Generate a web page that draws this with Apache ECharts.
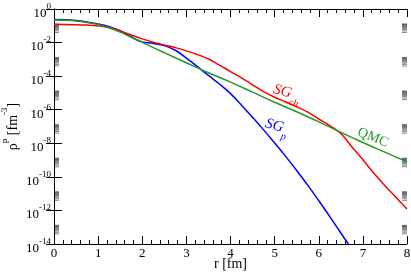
<!DOCTYPE html>
<html><head><meta charset="utf-8">
<script src="https://cdn.jsdelivr.net/npm/echarts@6/dist/echarts.min.js"></script>
<style>html,body{margin:0;padding:0;background:#fff}#c{width:411px;height:275px}</style>
</head><body><div id="c"></div>
<script>
// ---- data (r in fm, density in fm^-3) ----
const rRed   = [0,0.25,0.5,0.75,1.0,1.25,1.5,1.75,2.0,2.25,2.5,2.75,3.0,3.25,3.5,3.75,4.0,4.25,4.5,4.75,5.0,5.25,5.5,5.75,6.0,6.25,6.5,6.75,7.0,7.25,7.5,7.75,8.0];
const sgCh   = [1.20e-1,1.20e-1,1.17e-1,1.10e-1,9.8e-2,7.8e-2,5.0e-2,2.8e-2,1.66e-2,1.05e-2,7.2e-3,5.0e-3,3.2e-3,1.95e-3,1.05e-3,4.5e-4,1.86e-4,7.9e-5,3.0e-5,1.20e-5,5.5e-6,2.9e-6,1.51e-6,7.2e-7,2.8e-7,1.12e-7,3.8e-8,6.3e-9,1.05e-9,1.66e-10,3.0e-11,6.0e-12,1.2e-12];
const rBlue  = [0,0.25,0.5,0.75,1.0,1.25,1.5,1.75,1.9,2.0,2.25,2.5,2.75,3.0,3.25,3.5,3.75,4.0,4.25,4.5,4.75,5.0,5.25,5.5,5.75,6.0,6.25,6.5,6.75];
const sgP    = [2.34e-1,2.29e-1,2.04e-1,1.66e-1,1.29e-1,8.9e-2,5.1e-2,2.24e-2,1.32e-2,1.10e-2,8.9e-3,6.6e-3,3.5e-3,1.17e-3,3.7e-4,1.10e-4,3.4e-5,9.1e-6,1.86e-6,3.5e-7,6.3e-8,1.05e-8,1.66e-9,2.4e-10,3.2e-11,3.8e-12,4.3e-13,4.5e-14,5.0e-15];
const rGreen = [0,0.25,0.5,0.75,1.0,1.25,1.5,1.75,2.0,2.25,2.5,3.0,3.5,4.0,4.5,5.0,5.5,6.0,6.5,7.0,7.5,8.0];
const qmc    = [2.19e-1,2.14e-1,1.95e-1,1.58e-1,1.20e-1,7.4e-2,4.2e-2,2.09e-2,1.05e-2,5.0e-3,2.5e-3,6.3e-4,1.58e-4,4.4e-5,1.12e-5,2.8e-6,7.6e-7,1.9e-7,4.5e-8,1.12e-8,2.95e-9,7.9e-10];
// axis ticks
const xMin = 0, xMax = 8, xStep = 1;
const yMin = 1e-14, yMax = 1, yStepDecades = 2;
const minorDecades = [-14,-12,-10,-8,-6,-4,-2];
const minorMultipliers = [4,5,6,7,8,9,10,11,12,13];
// curve labels
const labels = [
  {text:'{m|SG}{sub|ch}', color:'#ff0000', r:5.26, v:7e-6, angle:-15},
  {text:'{m|SG}{sub|p}',  color:'#0000ff', r:5.03, v:7e-8, angle:-15},
  {text:'{u|QMC}',        color:'#229922', r:7.23, v:2.2e-8, angle:-22}
];

const RED='#ff0000', BLUE='#0000ff', GREEN='#229922';
const FONT='Liberation Serif';
const zip = (xs, ys) => xs.map((x,i)=>[x, ys[i]]);
const minorTickValues = [];
minorDecades.forEach(d => minorMultipliers.forEach(k => minorTickValues.push(k*Math.pow(10,d))));

const chart = echarts.init(document.getElementById('c'));
const axisLineStyle = {show:true, lineStyle:{color:'#000', width:1}};
const xBase = {type:'value', min:xMin, max:xMax, interval:xStep, splitLine:{show:false},
  axisLine:axisLineStyle,
  axisTick:{show:true, inside:true, length:8, lineStyle:{color:'#000'}},
  minorTick:{show:true, splitNumber:5, length:4, lineStyle:{color:'#000'}}};
const yBase = {type:'log', logBase:10, min:yMin, max:yMax, interval:yStepDecades, splitLine:{show:false},
  axisLine:axisLineStyle,
  axisTick:{show:true, inside:true, length:8, lineStyle:{color:'#000'}},
  minorTick:{show:false}};

const richLab = {
  m:{fontFamily:FONT, fontSize:15, fontStyle:'italic', padding:[0,0,6,0], verticalAlign:'top'},
  sub:{fontFamily:FONT, fontSize:10, fontStyle:'italic', verticalAlign:'bottom'},
  u:{fontFamily:FONT, fontSize:14}
};

chart.setOption({
  animation:false,
  backgroundColor:'#fff',
  textStyle:{fontFamily:FONT},
  grid:{left:54, right:4, top:9, bottom:31, containLabel:false, outerBoundsMode:'none'},
  xAxis:[
    Object.assign({}, xBase, {position:'bottom',
      axisLabel:{fontFamily:FONT, fontSize:13, color:'#000', margin:3},
      name:'r [fm]', nameLocation:'middle', nameGap:13, nameMoveOverlap:false,
      nameTextStyle:{fontFamily:FONT, fontSize:14, color:'#000'}}),
    Object.assign({}, xBase, {position:'top', axisLabel:{show:false}})
  ],
  yAxis:[
    Object.assign({}, yBase, {position:'left',
      axisLabel:{margin:3, fontFamily:FONT, formatter: v => '{b|10}{s|' + Math.round(Math.log10(v)) + '}',
        rich:{b:{fontFamily:FONT, fontSize:13, color:'#000', padding:[9,0,0,0]},
              s:{fontFamily:FONT, fontSize:9, color:'#000', padding:[4,0,0,0], verticalAlign:'top'}}},
      name:'{a|ρ}{s|p}{a| [fm}{s|-3}{a|]}', nameLocation:'middle', nameGap:34, nameRotate:90, nameMoveOverlap:false,
      nameTextStyle:{fontFamily:FONT, padding:[0,0,0,0], rich:{
        a:{fontFamily:FONT, fontSize:14, color:'#000', padding:[6,0,0,0]},
        s:{fontFamily:FONT, fontSize:9, color:'#000', verticalAlign:'top'}}}}),
    Object.assign({}, yBase, {position:'right', axisLabel:{show:false}})
  ],
  series:[
    {type:'line', name:'SGp', data:zip(rBlue, sgP), showSymbol:false, smooth:0.4,
     lineStyle:{color:BLUE, width:1.5}, itemStyle:{color:BLUE}},
    {type:'line', name:'SGch', data:zip(rRed, sgCh), showSymbol:false, smooth:0.4,
     lineStyle:{color:RED, width:1.5}, itemStyle:{color:RED}},
    {type:'line', name:'QMC', data:zip(rGreen, qmc), showSymbol:false, smooth:0.4,
     lineStyle:{color:GREEN, width:1.5}, itemStyle:{color:GREEN}},
    {type:'custom', silent:true, clip:false, data:minorTickValues.map(v=>[xMin, v]),
     renderItem:(params, api) => {
       const v = api.value(1);
       const L = api.coord([xMin, v]), R = api.coord([xMax, v]);
       return {type:'group', children:[
         {type:'line', shape:{x1:L[0], y1:L[1], x2:L[0]+5, y2:L[1]}, style:{stroke:'#000', lineWidth:0.8, opacity:0.6}},
         {type:'line', shape:{x1:R[0]-5, y1:R[1], x2:R[0], y2:R[1]}, style:{stroke:'#000', lineWidth:0.8, opacity:0.6}}
       ]};
     }}
  ]
});

const g = labels.map(l => {
  const p = chart.convertToPixel({gridIndex:0}, [l.r, l.v]);
  const rich = {};
  Object.keys(richLab).forEach(k => rich[k] = Object.assign({fill:l.color}, richLab[k]));
  return {type:'text', x:p[0], y:p[1], rotation:l.angle*Math.PI/180,
    style:{text:l.text, rich:rich, fill:l.color, align:'center', verticalAlign:'middle'}};
});
chart.setOption({graphic:g});
</script></body></html>
